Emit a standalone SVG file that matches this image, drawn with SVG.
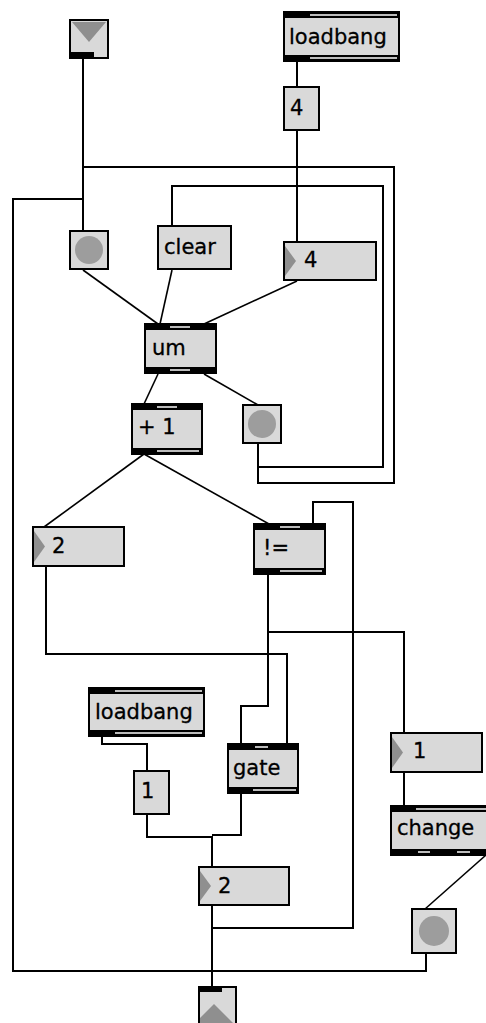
<svg xmlns="http://www.w3.org/2000/svg" width="486" height="1023" viewBox="0 0 486 1023">
<style>
.box{fill:#d9d9d9;stroke:#000;stroke-width:2}
.band{fill:#000}
.mark{fill:#bcbcbc}
.t{font-family:"DejaVu Sans",Verdana,sans-serif;font-size:21px;fill:#000;stroke:#000;stroke-width:0.3}
.w{fill:none;stroke:#000;stroke-width:2;stroke-linejoin:miter}
.d{fill:none;stroke:#000;stroke-width:1.6}
.tri{fill:#8f8f8f}
.dot{fill:#9d9d9d}
</style>
<rect width="486" height="1023" fill="#fff"/>
<g id="connectors">
<path class="w" d="M83,59V231"/>
<path class="w" d="M258,443V483H394V167H83"/>
<path class="w" d="M426,953V971H13V199H83"/>
<path class="w" d="M297,62V87"/>
<path class="w" d="M297,131V242"/>
<path class="w" d="M258,443V467H383V186H172V226"/>
<path class="d" d="M83,270L158,324"/>
<path class="d" d="M172,270L160,324"/>
<path class="d" d="M297,281L204,324"/>
<path class="d" d="M158,374L144,404"/>
<path class="d" d="M204,374L258,405"/>
<path class="d" d="M144,454L44,527"/>
<path class="d" d="M144,454L269,524"/>
<path class="w" d="M46,566V654H287V744"/>
<path class="w" d="M268,574V706H241V744"/>
<path class="w" d="M268,632H404V733"/>
<path class="w" d="M102,737V744H147V771"/>
<path class="w" d="M147,814V837H212V867"/>
<path class="w" d="M241,793V835H212"/>
<path class="w" d="M404,772V806"/>
<path class="d" d="M486,855L425,909"/>
<path class="w" d="M212,905V987"/>
<path class="w" d="M212,928H353V502H313V524"/>
</g>
<g id="inlet">
<rect class="box" x="70" y="20" width="38" height="38"/>
<polygon class="tri" points="72,22 106,22 89,42"/>
<rect class="band" x="70" y="52" width="24" height="5"/>
</g>
<g id="loadbang1">
<rect class="box" x="284" y="12" width="115" height="49"/>
<rect class="band" x="284" y="12" width="115" height="6"/>
<rect class="mark" x="310" y="14" width="87" height="2"/>
<rect class="band" x="284" y="55" width="115" height="6"/>
<rect class="mark" x="310" y="57" width="87" height="2"/>
<text class="t" x="289" y="44">loadbang</text>
</g>
<g id="msg4">
<rect class="box" x="284" y="87" width="35" height="43"/>
<text class="t" x="290" y="115">4</text>
</g>
<g id="button1">
<rect class="box" x="70" y="231" width="38" height="38"/>
<circle class="dot" cx="89" cy="250" r="14"/>
</g>
<g id="clear">
<rect class="box" x="158" y="226" width="73" height="43"/>
<text class="t" x="164" y="254">clear</text>
</g>
<g id="num4">
<rect class="box" x="284" y="242" width="92" height="38"/>
<polygon class="tri" points="285,246 296,261 285,276"/>
<text class="t" x="304" y="267">4</text>
</g>
<g id="um">
<rect class="box" x="145" y="324" width="71" height="49"/>
<rect class="band" x="145" y="324" width="71" height="6"/>
<rect class="mark" x="170" y="326" width="20" height="2"/>
<rect class="band" x="145" y="367" width="71" height="6"/>
<rect class="mark" x="170" y="369" width="20" height="2"/>
<text class="t" x="152" y="355">um</text>
</g>
<g id="plus1">
<rect class="box" x="132" y="404" width="70" height="50"/>
<rect class="band" x="132" y="404" width="70" height="6"/>
<rect class="mark" x="157" y="406" width="20" height="2"/>
<rect class="band" x="132" y="448" width="70" height="6"/>
<rect class="mark" x="157" y="450" width="42" height="2"/>
<text class="t" x="138" y="434">+ 1</text>
</g>
<g id="button2">
<rect class="box" x="243" y="405" width="38" height="38"/>
<circle class="dot" cx="262" cy="424" r="14"/>
</g>
<g id="num2">
<rect class="box" x="33" y="527" width="91" height="39"/>
<polygon class="tri" points="34,531 45,546.5 34,562"/>
<text class="t" x="52" y="553">2</text>
</g>
<g id="noteq">
<rect class="box" x="254" y="524" width="71" height="50"/>
<rect class="band" x="254" y="524" width="71" height="6"/>
<rect class="mark" x="280" y="526" width="20" height="2"/>
<rect class="band" x="254" y="568" width="71" height="6"/>
<rect class="mark" x="280" y="570" width="42" height="2"/>
<text class="t" x="263" y="555">!=</text>
</g>
<g id="loadbang2">
<rect class="box" x="89" y="688" width="115" height="48"/>
<rect class="band" x="89" y="688" width="115" height="6"/>
<rect class="mark" x="115" y="690" width="87" height="2"/>
<rect class="band" x="89" y="730" width="115" height="6"/>
<rect class="mark" x="115" y="732" width="87" height="2"/>
<text class="t" x="95" y="719">loadbang</text>
</g>
<g id="msg1">
<rect class="box" x="134" y="771" width="35" height="43"/>
<text class="t" x="141" y="798">1</text>
</g>
<g id="gate">
<rect class="box" x="228" y="744" width="70" height="49"/>
<rect class="band" x="228" y="744" width="70" height="6"/>
<rect class="mark" x="255" y="746" width="13" height="2"/>
<rect class="band" x="228" y="787" width="70" height="6"/>
<rect class="mark" x="253" y="789" width="43" height="2"/>
<text class="t" x="233" y="775">gate</text>
</g>
<g id="num1">
<rect class="box" x="391" y="733" width="91" height="39"/>
<polygon class="tri" points="392,737 403,752.5 392,768"/>
<text class="t" x="413" y="758">1</text>
</g>
<g id="change">
<rect class="box" x="391" y="806" width="97" height="49"/>
<rect class="band" x="391" y="806" width="97" height="6"/>
<rect class="mark" x="416" y="808" width="72" height="2"/>
<rect class="band" x="391" y="849" width="97" height="6"/>
<rect class="mark" x="418" y="851" width="12" height="2"/>
<rect class="mark" x="457" y="851" width="13" height="2"/>
<text class="t" x="397" y="835">change</text>
</g>
<g id="num2b">
<rect class="box" x="199" y="867" width="90" height="38"/>
<polygon class="tri" points="200,871 211,886 200,901"/>
<text class="t" x="218" y="893">2</text>
</g>
<g id="button3">
<rect class="box" x="412" y="909" width="44" height="44"/>
<circle class="dot" cx="434" cy="931" r="15"/>
</g>
<g id="outlet">
<rect class="box" x="199" y="987" width="37" height="40"/>
<rect class="band" x="199" y="987" width="23" height="5"/>
<polygon class="tri" points="200,1018 214,1004 233,1023 200,1023"/>
</g>
</svg>
